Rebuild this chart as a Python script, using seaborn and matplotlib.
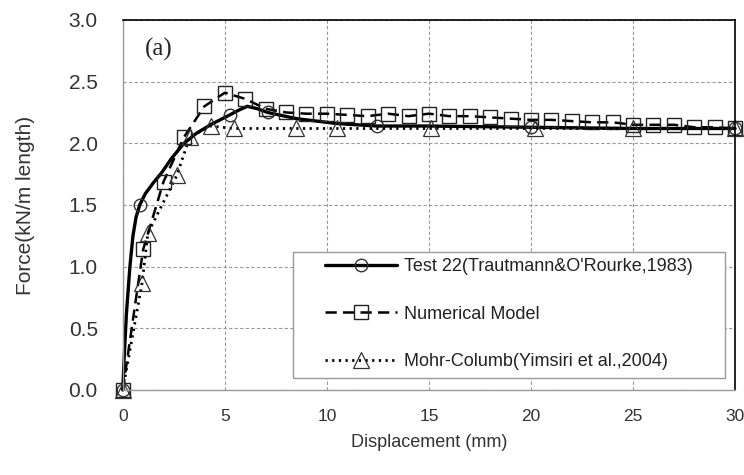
import matplotlib
matplotlib.use("Agg")
import matplotlib.pyplot as plt
from matplotlib.patches import Rectangle
from matplotlib import font_manager
import seaborn as sns
import pandas as pd

# ---- data ----
test_x = [0, 0.08, 0.18, 0.35, 0.5, 0.65, 0.83, 1.1, 1.5, 1.9, 2.4, 3.0, 3.6, 4.3, 5.24,
          5.7, 6.1, 6.6, 7.1, 8.5, 10.5, 12.45, 15, 20, 25, 30]
test_y = [0, 0.30, 0.62, 1.00, 1.25, 1.40, 1.50, 1.59, 1.68, 1.76, 1.88, 2.00, 2.08, 2.15, 2.23,
          2.27, 2.30, 2.28, 2.25, 2.20, 2.16, 2.14, 2.14, 2.13, 2.12, 2.12]
test_marker_x = [0, 0.83, 5.24, 7.1, 12.45, 20, 30]

num_x = [0, 1, 2, 3, 4, 5, 6, 7, 8, 9, 10, 11, 12, 13, 14, 15, 16, 17, 18, 19, 20,
         21, 22, 23, 24, 25, 26, 27, 28, 29, 30]
num_y = [0, 1.14, 1.69, 2.05, 2.30, 2.41, 2.36, 2.28, 2.25, 2.24, 2.24, 2.23, 2.22, 2.24, 2.22,
         2.24, 2.22, 2.22, 2.21, 2.20, 2.19, 2.19, 2.18, 2.17, 2.17, 2.15, 2.15, 2.15, 2.13, 2.13, 2.12]

mc_x = [0, 0.95, 1.23, 2.65, 3.28, 4.3, 5.44, 8.5, 10.5, 15.1, 20.2, 25.0, 30]
mc_y = [0, 0.87, 1.27, 1.74, 2.05, 2.14, 2.12, 2.12, 2.12, 2.12, 2.12, 2.12, 2.12]

labels = ["Test 22(Trautmann&O'Rourke,1983)",
          "Numerical Model",
          "Mohr-Columb(Yimsiri et al.,2004)"]
x_ticks = [0, 5, 10, 15, 20, 25, 30]
y_ticks = [0.0, 0.5, 1.0, 1.5, 2.0, 2.5, 3.0]

# ---- plot ----
sns.set_style("whitegrid")
plt.rcParams['font.family'] = ['Liberation Sans', 'DejaVu Sans']

names = {f.name for f in font_manager.fontManager.ttflist}
narrow = 'Liberation Sans Narrow' if 'Liberation Sans Narrow' in names else 'Liberation Sans'
xtick_size = 15 if narrow == 'Liberation Sans Narrow' else 12.5

fig = plt.figure(figsize=(7.44, 4.75), dpi=100)
ax = fig.add_axes([0.165, 0.179, 0.823, 0.779])

df_test = pd.DataFrame({"x": test_x, "y": test_y})
df_num = pd.DataFrame({"x": num_x, "y": num_y})
df_mc = pd.DataFrame({"x": mc_x, "y": mc_y})

test_idx = [test_x.index(v) for v in test_marker_x]

sns.lineplot(data=df_test, x="x", y="y", ax=ax, color="black", lw=2.4,
             marker="o", markersize=9, mfc="none", mec="#333333", mew=1.0,
             markevery=test_idx, label=labels[0], sort=False, estimator=None, clip_on=False)
sns.lineplot(data=df_num, x="x", y="y", ax=ax, color="black", lw=1.8,
             linestyle=(0, (4.5, 2.5)), marker="s", markersize=10.5, mfc="none",
             mec="#222222", mew=1.0, label=labels[1], sort=False, estimator=None, clip_on=False)
sns.lineplot(data=df_mc, x="x", y="y", ax=ax, color="black", lw=2.0,
             linestyle=(0, (0.8, 1.6)), marker="^", markersize=11, mfc="none",
             mec="#333333", mew=0.9, label=labels[2], sort=False, estimator=None, clip_on=False)

ax.set_xlim(0, 30)
ax.set_ylim(0, 3.0)
ax.set_xticks(x_ticks)
ax.set_yticks(y_ticks)
ax.set_xticklabels([str(v) for v in x_ticks], family=narrow, fontsize=xtick_size, color="#333333")
ax.set_yticklabels([f"{v:.1f}" for v in y_ticks], fontsize=15, color="#333333")
ax.tick_params(axis="both", length=0)
ax.tick_params(axis="y", pad=18)
ax.tick_params(axis="x", pad=14)

ax.grid(True, color="#9a9a9a", linestyle=(0, (3, 2)), linewidth=0.8)
ax.set_axisbelow(True)

for side in ["left", "bottom"]:
    ax.spines[side].set_color("#9a9a9a")
    ax.spines[side].set_linewidth(1.0)
for side in ["top", "right"]:
    ax.spines[side].set_color("black")
    ax.spines[side].set_linewidth(1.2)
for s in ax.spines.values():
    s.set_visible(True)

ax.set_xlabel("Displacement (mm)", fontsize=13, color="#333333", labelpad=7)
ax.set_ylabel("Force(kN/m length)", fontsize=15, color="#333333", labelpad=24)

ax.text(1.08, 2.76, "(a)", fontsize=18, family="Liberation Serif", va="center", ha="left")

# legend box
box = Rectangle((0.278, 0.032), 0.706, 0.341, transform=ax.transAxes,
                facecolor="white", edgecolor="#9a9a9a", lw=1.0, zorder=4)
ax.add_patch(box)
leg = ax.legend(loc="upper left", bbox_to_anchor=(0.33, 0.357), frameon=False,
                fontsize=13, handlelength=4.0, labelspacing=1.7, borderpad=0,
                borderaxespad=0, handletextpad=0.4)
leg.set_zorder(5)
for t in leg.get_texts():
    t.set_color("#222222")

fig.savefig("out.png", dpi=100)
